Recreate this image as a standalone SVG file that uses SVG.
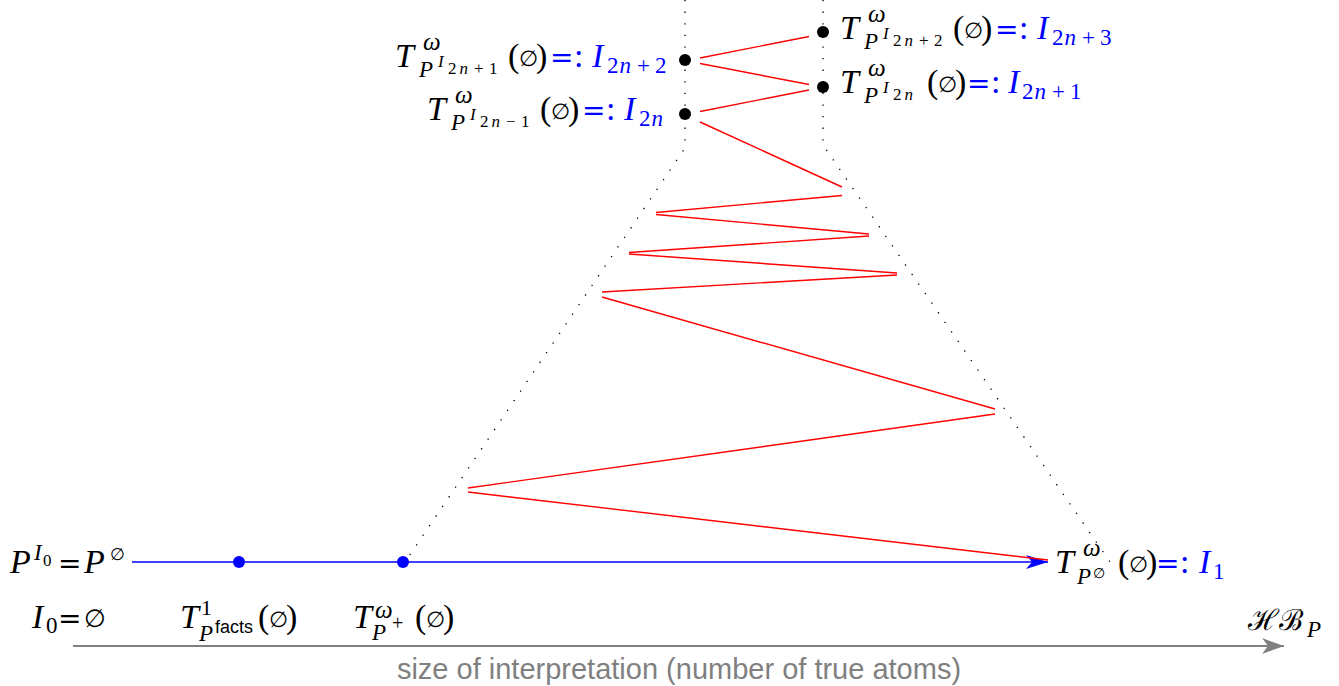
<svg xmlns="http://www.w3.org/2000/svg" width="1339" height="686" viewBox="0 0 1339 686">
<style>
.m{font-family:"Liberation Serif","DejaVu Serif",serif;font-style:italic;fill:#000}
.r{font-style:normal}
.b{fill:#0000ff}
.es{font-family:"DejaVu Serif","Liberation Serif",serif;font-style:normal;font-size:22px}
.eq{font-family:"DejaVu Sans","Liberation Sans",sans-serif;font-style:normal;font-size:28px}
.sf{font-family:"Liberation Sans","DejaVu Sans",sans-serif;font-style:normal}
.dot{fill:none;stroke:#000;stroke-width:1.3;stroke-dasharray:1.3 10.3}
.red{fill:none;stroke:#ff0000;stroke-width:1.4}
.s1{font-size:34px}.s2{font-size:23px}.s3{font-size:17px}.w{font-size:25px}
</style>
<defs>
<marker id="ab" viewBox="0 0 22 14" refX="22" refY="7" markerWidth="22" markerHeight="14" markerUnits="userSpaceOnUse" orient="auto">
<path d="M22,7 L0,0 L6,7 L0,14 Z" fill="#0000ff"/>
</marker>
<marker id="ag" viewBox="0 0 22 16" refX="22" refY="8" markerWidth="22" markerHeight="16" markerUnits="userSpaceOnUse" orient="auto">
<path d="M22,8 L0,0 L6,8 L0,16 Z" fill="#808080"/>
</marker>
</defs>

<g id="guides">
<path class="dot" d="M685,0 L685,148 L405,562"/>
<path class="dot" d="M823,0 L823,145 L1110,562"/>
</g>

<g id="axis">
<line x1="73" y1="646" x2="1284" y2="646" stroke="#808080" stroke-width="2" marker-end="url(#ag)"/>
<text x="679" y="679" class="sf" font-size="29" fill="#808080" text-anchor="middle">size of interpretation (number of true atoms)</text>
</g>

<g id="connectors">
<line x1="132" y1="562" x2="1048" y2="562" stroke="#0000ff" stroke-width="1.6" marker-end="url(#ab)"/>
<line class="red" x1="1048" y1="560" x2="468" y2="492"/>
<line class="red" x1="468" y1="488" x2="995" y2="414"/>
<line class="red" x1="995" y1="409" x2="602" y2="297"/>
<line class="red" x1="602" y1="292" x2="897" y2="275"/>
<line class="red" x1="897" y1="273" x2="629" y2="254"/>
<line class="red" x1="629" y1="252.5" x2="869" y2="236"/>
<line class="red" x1="869" y1="234" x2="656" y2="214.5"/>
<line class="red" x1="656" y1="212.5" x2="842" y2="195.5"/>
<line class="red" x1="842" y1="187" x2="700" y2="122"/>
<line class="red" x1="700" y1="111.5" x2="809" y2="90"/>
<line class="red" x1="809" y1="84.5" x2="700" y2="63.5"/>
<line class="red" x1="700" y1="58" x2="809" y2="36.5"/>
</g>

<g id="points">
<circle cx="239" cy="562" r="6" fill="#0000ff"/>
<circle cx="403" cy="562" r="6" fill="#0000ff"/>
<circle cx="685" cy="60" r="6" fill="#000"/>
<circle cx="685" cy="114" r="6" fill="#000"/>
<circle cx="823" cy="32" r="6" fill="#000"/>
<circle cx="823" cy="87" r="6" fill="#000"/>
</g>

<g id="n_I2n2">
<text class="m"><tspan class="s1" x="395" y="67">T</tspan><tspan class="w" x="423" y="50">ω</tspan><tspan class="s2" x="419" y="77">P</tspan><tspan class="s3" x="438" y="67">I</tspan><tspan class="s3 r" x="448" y="74">2</tspan><tspan class="s3" x="459.5" y="74">n</tspan><tspan class="s3 r" x="474" y="74">+</tspan><tspan class="s3 r" x="489" y="74">1</tspan><tspan class="s1 r" x="508" y="67">(</tspan><tspan class="es" x="519" y="66">∅</tspan><tspan class="s1 r" x="536" y="67">)</tspan><tspan class="eq b" x="550" y="67">=</tspan><tspan class="s1 r b" x="574" y="67">:</tspan><tspan class="s1 b" x="592" y="67">I</tspan><tspan class="s2 r b" x="607" y="73">2</tspan><tspan class="s2 b" x="619.5" y="73">n</tspan><tspan class="s2 r b" x="637" y="73">+</tspan><tspan class="s2 r b" x="655" y="73">2</tspan></text>
</g>

<g id="n_I2n">
<text class="m"><tspan class="s1" x="427" y="120">T</tspan><tspan class="w" x="455" y="103">ω</tspan><tspan class="s2" x="451" y="130">P</tspan><tspan class="s3" x="470" y="120">I</tspan><tspan class="s3 r" x="480" y="127">2</tspan><tspan class="s3" x="491.5" y="127">n</tspan><tspan class="s3 r" x="506" y="127">−</tspan><tspan class="s3 r" x="521" y="127">1</tspan><tspan class="s1 r" x="540" y="120">(</tspan><tspan class="es" x="551" y="119">∅</tspan><tspan class="s1 r" x="568" y="120">)</tspan><tspan class="eq b" x="582" y="120">=</tspan><tspan class="s1 r b" x="606" y="120">:</tspan><tspan class="s1 b" x="624" y="120">I</tspan><tspan class="s2 r b" x="639" y="126">2</tspan><tspan class="s2 b" x="651.5" y="126">n</tspan></text>
</g>

<g id="n_I2n3">
<text class="m"><tspan class="s1" x="840" y="39">T</tspan><tspan class="w" x="868" y="22">ω</tspan><tspan class="s2" x="864" y="49">P</tspan><tspan class="s3" x="883" y="39">I</tspan><tspan class="s3 r" x="893" y="46">2</tspan><tspan class="s3" x="904.5" y="46">n</tspan><tspan class="s3 r" x="919" y="46">+</tspan><tspan class="s3 r" x="934" y="46">2</tspan><tspan class="s1 r" x="953" y="39">(</tspan><tspan class="es" x="964" y="38">∅</tspan><tspan class="s1 r" x="981" y="39">)</tspan><tspan class="eq b" x="995" y="39">=</tspan><tspan class="s1 r b" x="1019" y="39">:</tspan><tspan class="s1 b" x="1037" y="39">I</tspan><tspan class="s2 r b" x="1052" y="45">2</tspan><tspan class="s2 b" x="1064.5" y="45">n</tspan><tspan class="s2 r b" x="1082" y="45">+</tspan><tspan class="s2 r b" x="1100" y="45">3</tspan></text>
</g>

<g id="n_I2n1">
<text class="m"><tspan class="s1" x="840" y="93">T</tspan><tspan class="w" x="868" y="76">ω</tspan><tspan class="s2" x="864" y="103">P</tspan><tspan class="s3" x="883" y="93">I</tspan><tspan class="s3 r" x="893" y="100">2</tspan><tspan class="s3" x="904.5" y="100">n</tspan><tspan class="s1 r" x="927" y="93">(</tspan><tspan class="es" x="938" y="92">∅</tspan><tspan class="s1 r" x="955" y="93">)</tspan><tspan class="eq b" x="967" y="93">=</tspan><tspan class="s1 r b" x="991" y="93">:</tspan><tspan class="s1 b" x="1008" y="93">I</tspan><tspan class="s2 r b" x="1022" y="99">2</tspan><tspan class="s2 b" x="1034.5" y="99">n</tspan><tspan class="s2 r b" x="1052" y="99">+</tspan><tspan class="s2 r b" x="1070" y="99">1</tspan></text>
</g>

<g id="n_I1">
<text class="m"><tspan class="s1" x="1055" y="573">T</tspan><tspan class="w" x="1083" y="556">ω</tspan><tspan class="s2" x="1077" y="584">P</tspan><tspan class="es" style="font-size:14px" x="1093" y="578">∅</tspan><tspan class="s1 r" x="1118" y="573">(</tspan><tspan class="es" x="1129" y="572">∅</tspan><tspan class="s1 r" x="1146" y="573">)</tspan><tspan class="eq b" x="1156" y="573">=</tspan><tspan class="s1 r b" x="1180" y="573">:</tspan><tspan class="s1 b" x="1199" y="573">I</tspan><tspan class="s2 r b" x="1213" y="579">1</tspan></text>
</g>

<g id="n_P0">
<text class="m"><tspan class="s1" x="10" y="573">P</tspan><tspan class="s2" x="34" y="560">I</tspan><tspan class="s3 r" x="43" y="566">0</tspan><tspan class="eq" x="58" y="573">=</tspan><tspan class="s1" x="84" y="573">P</tspan><tspan class="es" style="font-size:17px" x="110" y="560">∅</tspan></text>
</g>

<g id="n_I0">
<text class="m"><tspan class="s1" x="32" y="628">I</tspan><tspan class="s2 r" x="46" y="633">0</tspan><tspan class="eq" x="58" y="628">=</tspan><tspan class="es" style="font-size:25px" x="84" y="627">∅</tspan></text>
</g>

<g id="n_facts">
<text class="m"><tspan class="s1" x="180" y="628">T</tspan><tspan class="r" style="font-size:22px" x="201" y="615">1</tspan><tspan class="s2" x="199" y="641">P</tspan><tspan class="sf" style="font-size:18px" x="215" y="633">facts</tspan><tspan class="s1 r" x="258" y="628">(</tspan><tspan class="es" x="269" y="627">∅</tspan><tspan class="s1 r" x="286" y="628">)</tspan></text>
</g>

<g id="n_Pplus">
<text class="m"><tspan class="s1" x="353" y="628">T</tspan><tspan class="w" x="375" y="618">ω</tspan><tspan class="s2" x="372" y="640">P</tspan><tspan class="r" style="font-size:20px" x="392" y="630">+</tspan><tspan class="s1 r" x="415" y="628">(</tspan><tspan class="es" x="426" y="627">∅</tspan><tspan class="s1 r" x="443" y="628">)</tspan></text>
</g>

<g id="n_HB">
<text class="m"><tspan class="es" style="font-size:29px" x="1248" y="630">ℋℬ</tspan><tspan class="s2" x="1307" y="637">P</tspan></text>
</g>
</svg>
